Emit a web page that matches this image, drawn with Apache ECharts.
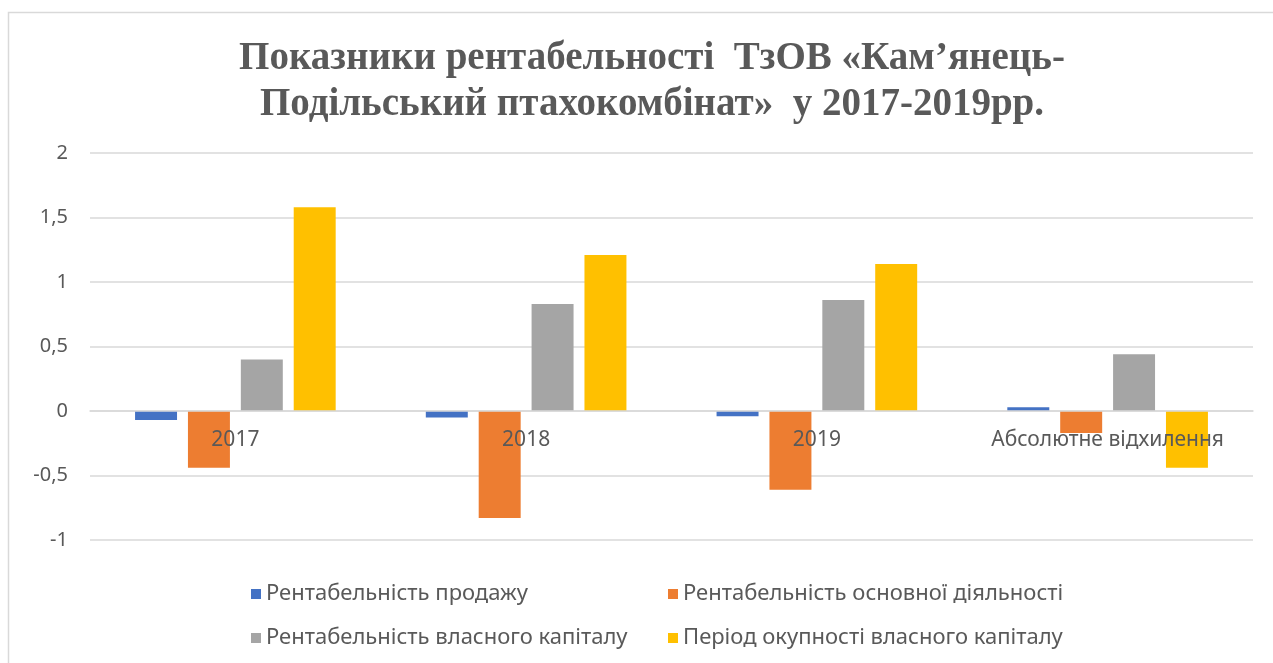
<!DOCTYPE html>
<html>
<head>
<meta charset="utf-8">
<script src="https://cdn.jsdelivr.net/npm/echarts@6/dist/echarts.min.js"></script>
<style>
  html, body { margin: 0; padding: 0; background: #fff; }
  #statistics { width: 1273px; height: 663px; }
</style>
</head>
<body>
<div id="statistics"></div>
<script>
var categories = ['2017', '2018', '2019', 'Абсолютне відхилення'];
var seriesNames = [
    'Рентабельність продажу',
    'Рентабельність основної діяльності',
    'Рентабельність власного капіталу',
    'Період окупності власного капіталу'
];
var salesRate = [-0.07, -0.05, -0.04, 0.03];
var mainActivityRate = [-0.44, -0.83, -0.61, -0.17];
var equityRate = [0.40, 0.83, 0.86, 0.44];
var paybackPeriod = [1.58, 1.21, 1.14, -0.44];
var yTicks = [-1, -0.5, 0, 0.5, 1, 1.5, 2];

function chart() {
    var myChart = echarts.init(document.getElementById('statistics'));
    var font = 'Noto Sans';
    var values = [salesRate, mainActivityRate, equityRate, paybackPeriod];

    var series = seriesNames.map(function (name, i) {
        return {
            name: name,
            type: 'bar',
            barGap: '26%',
            barCategoryGap: '31%',
            z: 2,
            data: values[i]
        };
    });

    var legendText = { fontFamily: font, fontSize: 22, color: '#595959' };

    var option = {
        color: ['#4472c4', '#ed7d31', '#a5a5a5', '#ffc000'],
        animation: false,
        graphic: [{
            type: 'rect',
            shape: { x: 8.5, y: 12.5, width: 1300, height: 700 },
            style: { fill: 'none', stroke: '#d9d9d9', lineWidth: 1.5 }
        }],
        title: {
            text: 'Показники рентабельності  ТзОВ «Кам’янець-\nПодільський птахокомбінат»  у 2017-2019рр.',
            left: 647,
            textAlign: 'center',
            top: 31,
            textStyle: {
                fontFamily: 'Liberation Serif',
                fontWeight: 'bold',
                fontSize: 39,
                lineHeight: 46,
                color: '#595959'
            }
        },
        legend: [{
            orient: 'vertical',
            left: 246,
            top: 578,
            itemWidth: 10,
            itemHeight: 10,
            itemGap: 22,
            icon: 'rect',
            data: [seriesNames[0], seriesNames[2]],
            textStyle: legendText
        }, {
            orient: 'vertical',
            left: 663,
            top: 578,
            itemWidth: 10,
            itemHeight: 10,
            itemGap: 22,
            icon: 'rect',
            data: [seriesNames[1], seriesNames[3]],
            textStyle: legendText
        }],
        grid: {
            left: 90,
            right: 20,
            top: 153,
            bottom: 123,
            containLabel: false
        },
        xAxis: {
            type: 'category',
            data: categories,
            z: 10,
            axisLine: { onZero: true, lineStyle: { color: '#d9d9d9', width: 1.5 } },
            axisTick: { show: false },
            axisLabel: {
                interval: 0,
                hideOverlap: false,
                margin: -110,
                fontFamily: font,
                fontSize: 21,
                color: '#595959'
            }
        },
        yAxis: {
            type: 'value',
            min: -1,
            max: 2,
            interval: 0.5,
            axisLine: { show: false },
            axisTick: { show: false },
            splitLine: { lineStyle: { color: '#d9d9d9', width: 1.5 } },
            axisLabel: {
                margin: 22,
                fontFamily: font,
                fontSize: 20,
                color: '#595959',
                formatter: function (v) {
                    return yTicks.indexOf(v) >= 0 ? String(v).replace('.', ',') : '';
                }
            }
        },
        series: series
    };

    myChart.setOption(option);
}
chart();
</script>
</body>
</html>
